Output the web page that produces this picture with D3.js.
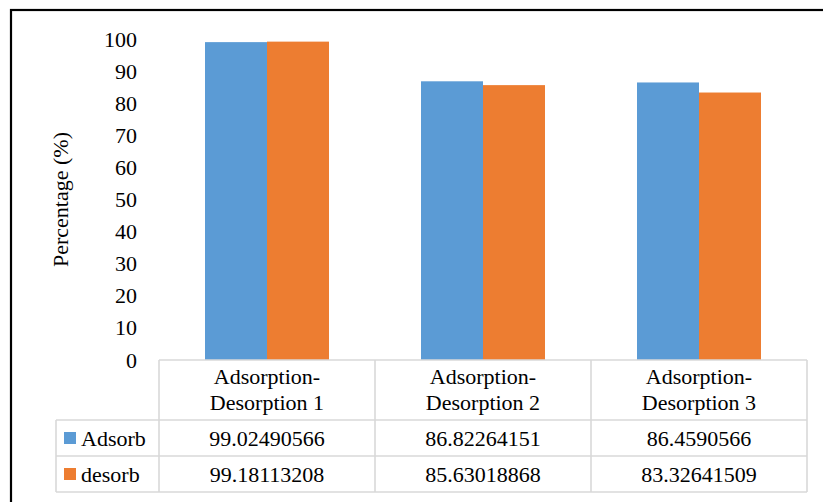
<!DOCTYPE html>
<html>
<head>
<meta charset="utf-8">
<script src="https://cdn.jsdelivr.net/npm/d3@7"></script>
</head>
<body style="margin:0;background:#fff">
<script>
// Cycle labels (two lines each), series and their values
const categories = [
  ["Adsorption-", "Desorption 1"],
  ["Adsorption-", "Desorption 2"],
  ["Adsorption-", "Desorption 3"]
];
const seriesNames = ["Adsorb", "desorb"];
const adsorbValues = [99.02490566, 86.82264151, 86.4590566];
const desorbValues = [99.18113208, 85.63018868, 83.32641509];
const yTicks = [0, 10, 20, 30, 40, 50, 60, 70, 80, 90, 100];
const colors = ["#5B9BD5", "#ED7D31"];
const yTitle = "Percentage (%)";

const W = 823, H = 502;
const FONT = "Times New Roman";
const FS = 22;
const seriesValues = [adsorbValues, desorbValues];

const svg = d3.select("body").append("svg")
  .attr("width", W).attr("height", H)
  .style("display", "block");

// outer chart frame (extends past the right and bottom edges)
svg.append("rect")
  .attr("x", 11).attr("y", 10)
  .attr("width", 900).attr("height", 600)
  .attr("fill", "none").attr("stroke", "#000").attr("stroke-width", 2.2);

const plotLeft = 159, plotRight = 807, plotTop = 39, plotBottom = 360;
const labelLeft = 56;
const headerBottom = 420, rowH = 36;

const catIdx = categories.map((d, i) => i);
const x = d3.scaleBand().domain(catIdx).range([plotLeft, plotRight]).paddingInner(0).paddingOuter(0);
const xs = d3.scaleBand().domain(d3.range(seriesNames.length))
  .range([0, x.bandwidth()]).paddingInner(0).paddingOuter(0.742);
const y = d3.scaleLinear().domain([0, 100]).range([plotBottom, plotTop]);

function addText(px, py, str, anchor) {
  return svg.append("text")
    .attr("x", px).attr("y", py)
    .attr("font-family", FONT).attr("font-size", FS)
    .attr("text-anchor", anchor || "start")
    .text(str);
}

// value-axis labels (no axis line, no gridlines)
yTicks.forEach(t => addText(137, y(t) + 7.5, String(t), "end"));

svg.append("text")
  .attr("transform", `translate(68,${(plotTop + plotBottom) / 2}) rotate(-90)`)
  .attr("font-family", FONT).attr("font-size", FS)
  .attr("text-anchor", "middle")
  .text(yTitle);

// bars
seriesNames.forEach((name, s) => {
  svg.append("g").selectAll("rect")
    .data(seriesValues[s])
    .join("rect")
    .attr("x", (d, i) => x(i) + xs(s))
    .attr("y", d => y(d))
    .attr("width", xs.bandwidth())
    .attr("height", d => y(0) - y(d))
    .attr("fill", colors[s]);
});

// data table grid
const grid = svg.append("g").attr("stroke", "#d9d9d9").attr("stroke-width", 1.6).attr("fill", "none");
const tableBottom = headerBottom + rowH * seriesNames.length;
grid.append("line").attr("x1", plotLeft).attr("x2", plotRight).attr("y1", plotBottom).attr("y2", plotBottom);
grid.append("line").attr("x1", labelLeft).attr("x2", plotRight).attr("y1", headerBottom).attr("y2", headerBottom);
seriesNames.forEach((n, s) => {
  const yy = headerBottom + rowH * (s + 1);
  grid.append("line").attr("x1", labelLeft).attr("x2", plotRight).attr("y1", yy).attr("y2", yy);
});
grid.append("line").attr("x1", labelLeft).attr("x2", labelLeft).attr("y1", headerBottom).attr("y2", tableBottom);
catIdx.concat([categories.length]).forEach(i => {
  const xx = i < categories.length ? x(i) : plotRight;
  grid.append("line").attr("x1", xx).attr("x2", xx).attr("y1", plotBottom).attr("y2", tableBottom);
});

// category header labels
categories.forEach((lines, i) => {
  lines.forEach((ln, k) => addText(x(i) + x.bandwidth() / 2, 384 + k * 26, ln, "middle"));
});

// series rows: legend key, name, values
seriesNames.forEach((name, s) => {
  const rowTop = headerBottom + rowH * s;
  const base = rowTop + rowH / 2 + 7.5;
  svg.append("rect").attr("x", 64).attr("y", rowTop + 12).attr("width", 12).attr("height", 12).attr("fill", colors[s]);
  addText(81, base, name);
  seriesValues[s].forEach((v, i) => addText(x(i) + x.bandwidth() / 2, base, String(v), "middle"));
});
</script>
</body>
</html>
